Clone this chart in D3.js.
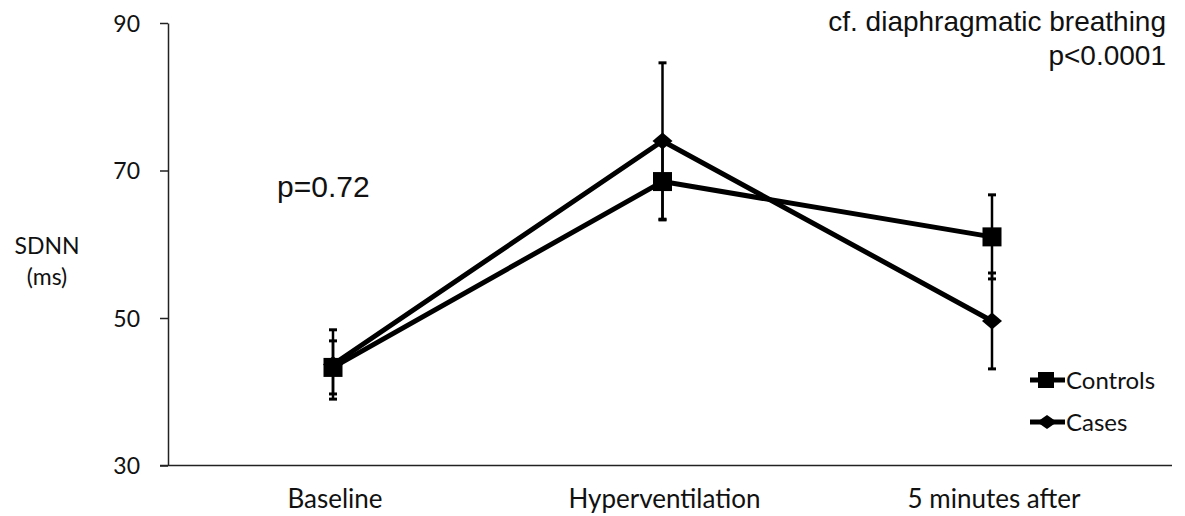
<!DOCTYPE html>
<html>
<head>
<meta charset="utf-8">
<script src="https://cdn.jsdelivr.net/npm/d3@7"></script>
<style>
  body { margin: 0; background: #fff; }
  svg { display: block; }
  .lab { font-family: Lato, "Open Sans", sans-serif; fill: #111; }
  .ann { font-family: "Liberation Sans", Arial, sans-serif; fill: #111; }
</style>
</head>
<body>
<div id="chart"></div>
<script>
// categories and series (means with error bars)
const categories = ["Baseline", "Hyperventilation", "5 minutes after"];
const controlsMean = [43.3, 68.5, 61.0];
const controlsErr = [3.6, 5.2, 5.7];
const casesMean = [43.7, 74.0, 49.6];
const casesErr = [4.7, 10.6, 6.5];
const yTicks = [30, 50, 70, 90];

const width = 1185, height = 516;

const svg = d3.select("#chart")
  .append("svg")
  .attr("width", width)
  .attr("height", height);

const x = d3.scalePoint()
  .domain(categories)
  .range([333, 992]);

const y = d3.scaleLinear()
  .domain([30, 90])
  .range([465.5, 23]);

// axes
const yAxis = svg.append("g")
  .attr("transform", "translate(168,0)")
  .call(d3.axisLeft(y).tickValues(yTicks).tickSize(8).tickPadding(20).tickSizeOuter(0));
yAxis.select(".domain").attr("stroke", "#222").attr("stroke-width", 1.5);
yAxis.selectAll(".tick line").attr("stroke", "#222").attr("stroke-width", 1.5);
yAxis.selectAll(".tick text")
  .attr("class", "lab")
  .style("font-size", "23px")
  .attr("dy", "0.36em");
yAxis.attr("font-family", null).attr("font-size", null);

svg.append("line")
  .attr("x1", 160).attr("x2", 1172)
  .attr("y1", y(30)).attr("y2", y(30))
  .attr("stroke", "#222").attr("stroke-width", 1.5);

svg.selectAll(".cat")
  .data(categories)
  .enter()
  .append("text")
  .attr("class", "lab")
  .attr("x", d => x(d) + 2)
  .attr("y", 508)
  .attr("text-anchor", "middle")
  .style("font-size", "26px")
  .text(d => d);

// y label
svg.append("text").attr("class", "lab")
  .attr("x", 47).attr("y", 254).attr("text-anchor", "middle")
  .style("font-size", "23px").text("SDNN");
svg.append("text").attr("class", "lab")
  .attr("x", 47).attr("y", 285).attr("text-anchor", "middle")
  .style("font-size", "23px").text("(ms)");

const series = [
  { name: "Controls", mean: controlsMean, err: controlsErr, shape: "square" },
  { name: "Cases", mean: casesMean, err: casesErr, shape: "diamond" }
];

const plot = svg.append("g");

// error bars
series.forEach(s => {
  categories.forEach((c, i) => {
    const cx = x(c);
    const top = y(s.mean[i] + s.err[i]);
    const bot = y(s.mean[i] - s.err[i]);
    plot.append("line")
      .attr("x1", cx).attr("x2", cx).attr("y1", top).attr("y2", bot)
      .attr("stroke", "#000").attr("stroke-width", 2.5);
    [top, bot].forEach(v => {
      plot.append("line")
        .attr("x1", cx - 4).attr("x2", cx + 4).attr("y1", v).attr("y2", v)
        .attr("stroke", "#000").attr("stroke-width", 3);
    });
  });
});

const line = d3.line()
  .x((d, i) => x(categories[i]))
  .y(d => y(d));

series.forEach(s => {
  plot.append("path")
    .datum(s.mean)
    .attr("d", line)
    .attr("fill", "none")
    .attr("stroke", "#000")
    .attr("stroke-width", 5)
    .attr("stroke-linejoin", "round");
});

function drawMarker(g, shape, cx, cy) {
  if (shape === "square") {
    g.append("rect")
      .attr("x", cx - 9.5).attr("y", cy - 9.5)
      .attr("width", 19).attr("height", 19)
      .attr("fill", "#000");
  } else {
    g.append("path")
      .attr("d", `M${cx - 10},${cy} L${cx},${cy - 8.5} L${cx + 10},${cy} L${cx},${cy + 8.5} Z`)
      .attr("fill", "#000");
  }
}

series.forEach(s => {
  s.mean.forEach((v, i) => drawMarker(plot, s.shape, x(categories[i]), y(v)));
});

// legend
const legend = svg.append("g");
series.forEach((s, i) => {
  const ly = 380 + i * 42;
  legend.append("line")
    .attr("x1", 1030).attr("x2", 1065).attr("y1", ly).attr("y2", ly)
    .attr("stroke", "#000").attr("stroke-width", 5);
  if (s.shape === "square") {
    legend.append("rect").attr("x", 1038).attr("y", ly - 8).attr("width", 16).attr("height", 16).attr("fill", "#000");
  } else {
    legend.append("path")
      .attr("d", `M1037,${ly} L1047,${ly - 7} L1057,${ly} L1047,${ly + 7} Z`)
      .attr("fill", "#000");
  }
  legend.append("text").attr("class", "lab")
    .attr("x", 1066).attr("y", ly + 9)
    .style("font-size", "24px").text(s.name);
});

// annotations
svg.append("text").attr("class", "ann")
  .attr("x", 277).attr("y", 197)
  .style("font-size", "30px").text("p=0.72");
svg.append("text").attr("class", "ann")
  .attr("x", 1166).attr("y", 31).attr("text-anchor", "end")
  .style("font-size", "28px").text("cf. diaphragmatic breathing");
svg.append("text").attr("class", "ann")
  .attr("x", 1166).attr("y", 65).attr("text-anchor", "end")
  .style("font-size", "28px").text("p<0.0001");
</script>
</body>
</html>
